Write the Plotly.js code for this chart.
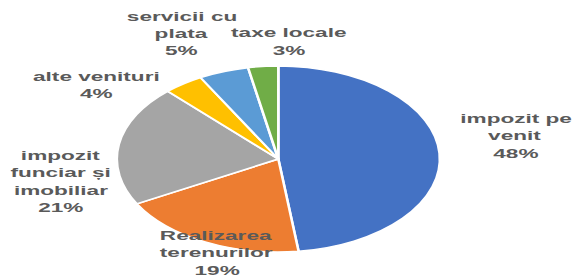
<!DOCTYPE html>
<html>
<head>
<meta charset="utf-8">
<script src="https://cdn.plot.ly/plotly-3.0.1.min.js"></script>
<style>
html,body{margin:0;padding:0;background:#fff;overflow:hidden;}
#wrap{width:576px;height:276px;overflow:hidden;}
#chart{transform-origin:0 0;}
</style>
</head>
<body>
<div id="wrap"><div id="chart"></div></div>
<script>
// Data
const categories = ["impozit pe venit", "Realizarea terenurilor", "impozit funciar și imobiliar", "alte venituri", "servicii cu plata", "taxe locale"];
const values = [48, 19, 21, 4, 5, 3];
const labelLines = [["impozit pe", "venit", "48%"], ["Realizarea", "terenurilor", "19%"], ["impozit", "funciar și", "imobiliar", "21%"], ["alte venituri", "4%"], ["servicii cu", "plata", "5%"], ["taxe locale", "3%"]];
const colors = ["#4472C4", "#ED7D31", "#A5A5A5", "#FFC000", "#5B9BD5", "#70AD47"];

// Layout (the original picture is stretched horizontally)
const FW = 576, FH = 276;
const stretch = 1.737;
const W = FW / stretch;
const cxF = 278, cyF = 159, r = 93;
const cxU = cxF / stretch;
const labelPos = [[515, 118], [216, 235], [61, 155], [96, 76], [182, 16], [288, 33]];
const lineGap = 17.5;

const trace = {
  type: "pie",
  labels: categories,
  values: values,
  sort: false,
  direction: "clockwise",
  rotation: 0,
  textinfo: "none",
  hoverinfo: "label+percent",
  marker: {colors: colors, line: {color: "#ffffff", width: 1.5}},
  domain: {x: [(cxU - r) / W, (cxU + r) / W], y: [(FH - cyF - r) / FH, (FH - cyF + r) / FH]}
};

const annotations = [];
labelLines.forEach((lines, i) => {
  lines.forEach((t, j) => {
    annotations.push({
      text: "<b>" + t + "</b>",
      xref: "paper", yref: "paper",
      x: labelPos[i][0] / FW, y: 1 - (labelPos[i][1] + j * lineGap) / FH,
      xanchor: "center", yanchor: "middle",
      showarrow: false, align: "center",
      font: {family: "Liberation Sans, Arial, sans-serif", size: 13, color: "#5a5a5a"}
    });
  });
});

const layout = {
  width: W, height: FH,
  margin: {l: 0, r: 0, t: 0, b: 0},
  showlegend: false,
  paper_bgcolor: "#ffffff",
  annotations: annotations,
  font: {family: "Liberation Sans, Arial, sans-serif"}
};

document.getElementById("chart").style.transform = "scale(" + stretch + ",1)";
Plotly.newPlot("chart", [trace], layout, {displayModeBar: false, staticPlot: true});
</script>
</body>
</html>
